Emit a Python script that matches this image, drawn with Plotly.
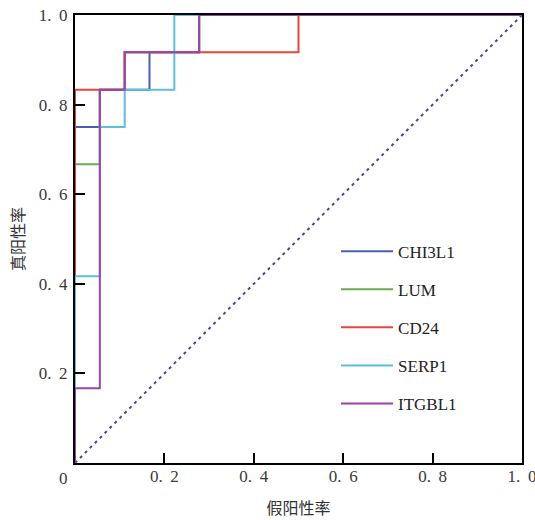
import plotly.graph_objects as go

# ROC curve data (FPR steps of 1/18, TPR steps of 1/12)
chi3l1_fpr = [0, 0, 1/18, 1/18, 3/18, 3/18, 5/18, 5/18, 1]
chi3l1_tpr = [0, 9/12, 9/12, 10/12, 10/12, 11/12, 11/12, 1, 1]

lum_fpr = [0, 0, 1/18, 1/18, 2/18, 2/18, 5/18, 5/18, 1]
lum_tpr = [0, 8/12, 8/12, 10/12, 10/12, 11/12, 11/12, 1, 1]

cd24_fpr = [0, 0, 2/18, 2/18, 9/18, 9/18, 1]
cd24_tpr = [0, 10/12, 10/12, 11/12, 11/12, 1, 1]

serp1_fpr = [0, 0, 1/18, 1/18, 2/18, 2/18, 4/18, 4/18, 1]
serp1_tpr = [0, 5/12, 5/12, 9/12, 9/12, 10/12, 10/12, 1, 1]

itgbl1_fpr = [0, 0, 1/18, 1/18, 2/18, 2/18, 5/18, 5/18, 1]
itgbl1_tpr = [0, 2/12, 2/12, 10/12, 10/12, 11/12, 11/12, 1, 1]

names = ["CHI3L1", "LUM", "CD24", "SERP1", "ITGBL1"]
colors = ["#4a5db3", "#6faa4e", "#e8463c", "#5cc0d8", "#9b43ab"]
series = [(chi3l1_fpr, chi3l1_tpr), (lum_fpr, lum_tpr), (cd24_fpr, cd24_tpr),
          (serp1_fpr, serp1_tpr), (itgbl1_fpr, itgbl1_tpr)]

diag = [0, 1]

x_ticks = [0.2, 0.4, 0.6, 0.8, 1.0]
x_ticktext = ["0.\u2009 2", "0.\u2009 4", "0.\u2009 6", "0.\u2009 8", "1.\u2009 0"]
y_ticks = [0.2, 0.4, 0.6, 0.8, 1.0]
y_ticktext = ["0.\u2009 2", "0.\u2009 4", "0.\u2009 6", "0.\u2009 8", "1.\u2009 0"]
origin_label = "0"

fig = go.Figure()
fig.add_trace(go.Scatter(x=diag, y=diag, mode="lines", showlegend=False,
                         line=dict(color="#4b41a3", width=2, dash="3px,4px")))
for nm, col, (fx, ty) in zip(names, colors, series):
    fig.add_trace(go.Scatter(x=fx, y=ty, mode="lines", name=nm, legendgroup=nm,
                             line=dict(color=col, width=2)))

tickfont = dict(family="Liberation Serif", size=17, color="#3a3a3a")
titlefont = dict(family="Noto Sans CJK SC", size=16, color="#333")
axis_common = dict(
    range=[0, 1], showgrid=False, zeroline=False, showline=True,
    linecolor="black", linewidth=2, mirror=True, automargin=False,
    ticks="inside", ticklen=10, tickwidth=2, tickcolor="black",
    tickfont=tickfont, ticklabeloverflow="allow",
)

fig.add_annotation(x=0, y=0, xref="x", yref="y", text=origin_label, showarrow=False,
                   xanchor="right", yanchor="top", xshift=-5, yshift=-4, font=tickfont)

fig.update_layout(
    width=535, height=520,
    margin=dict(l=75, r=13, t=15, b=57),
    paper_bgcolor="white", plot_bgcolor="white",
    xaxis=dict(**axis_common, tickvals=x_ticks, ticktext=x_ticktext,
               ticklabelstandoff=-3,
               title=dict(text="假阳性率", font=titlefont, standoff=17)),
    yaxis=dict(**axis_common, tickvals=y_ticks, ticktext=y_ticktext,
               ticklabelstandoff=2,
               title=dict(text="真阳性率", font=titlefont, standoff=10)),
    legend=dict(x=0.584, y=0.512, xanchor="left", yanchor="top",
                bgcolor="rgba(0,0,0,0)", tracegroupgap=13, itemwidth=52,
                font=dict(family="Liberation Serif", size=17, color="#222")),
)

fig.write_html("out.html", config={"displayModeBar": False},
               post_script="document.body.style.margin='0';")
